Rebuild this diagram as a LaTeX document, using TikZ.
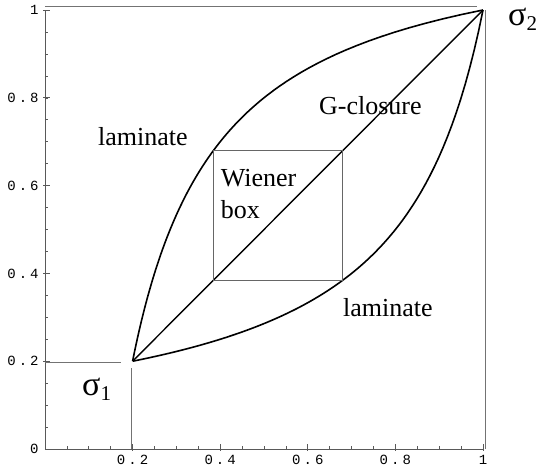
\documentclass[tikz,border=0pt]{standalone}
\usepackage{fontspec}
\setmainfont{Liberation Serif}
\newfontfamily\tickfont[LetterSpace=22]{Liberation Mono}
\usepackage{tikz}
\usetikzlibrary{positioning}

\begin{document}
\begin{tikzpicture}[
    x=438pt, y=439pt,
    axis/.style={draw=black!65, line width=0.9pt},
    guide/.style={draw=black!55, line width=0.9pt},
    curve/.style={draw=black, line width=1.6pt},
    wbox/.style={draw=black!60, line width=0.9pt},
    lbl/.style={font=\fontsize{26}{32}\selectfont, inner sep=0pt},
    sig/.style={font=\fontsize{34}{34}\selectfont, inner sep=0pt, anchor=base west},
    tick/.style={font=\tickfont\fontsize{14}{14}\selectfont, inner sep=0pt},
]
\useasboundingbox (-0.1027,-0.0547) rectangle (1.1461,1.0228);

% axes and ticks
\coordinate (o) at (0,0);
\draw[axis] (o) -- (1,0);
\draw[axis] (o) -- (0,1);
\foreach \i in {1,...,20} {
    \draw[axis, line width=0.6pt] (\i/20,0) -- (\i/20,0.007);
    \draw[axis, line width=0.6pt] (0,\i/20) -- (0.007,\i/20);
}
\foreach \t in {0.2,0.4,0.6,0.8,1} {
    \draw[axis] (\t,-0.004) -- (\t,0.012);
    \draw[axis] (-0.004,\t) -- (0.012,\t);
    \node[tick, anchor=base] at (\t,-0.035) {\t};
    \node[tick, anchor=east] at (-0.014,\t) {\t};
}
\node[tick, anchor=east] at (-0.014,0) {0};

% the two phases
\coordinate (s1) at (0.2,0.2);
\coordinate (s2) at (1,1);
\draw[guide] (0,0.198) -- (0.1735,0.198);
\draw[guide] (0.198,0) -- (0.198,0.185);
\draw[guide] (0,1.009) -- (0.986,1.009);
\draw[guide] (1.006,0) -- (1.006,1.0);

% laminate bounds and G-closure diagonal
\draw[curve] plot[domain=0:1, samples=80, variable=\m] ({1/(1+4*\m)}, {1-0.8*\m});
\draw[curve] plot[domain=0:1, samples=80, variable=\m] ({1-0.8*\m}, {1/(1+4*\m)});
\draw[curve, line width=1.4pt] (s1) -- (s2);

% Wiener box
\coordinate (wlo) at (0.3846,0.3846);
\coordinate (whi) at (0.68,0.68);
\draw[wbox] (wlo) rectangle (whi);

\node[lbl, anchor=base] (lamup) at (0.2237,0.6925) {laminate};
\node[lbl, anchor=base] (lamlo) at (0.783,0.301) {laminate};
\node[lbl, anchor=base] (gcl) at (0.743,0.761) {G-closure};
\node[lbl, anchor=base west, align=left] (wiener) at (0.401,0.524) {Wiener\\box};

\node[sig] (sig1) at (0.0845,0.123) {σ\raisebox{-5pt}{\fontsize{21}{21}\selectfont 1}};
\node[sig] (sig2) at (1.057,0.9636) {σ\raisebox{-5pt}{\fontsize{21}{21}\selectfont 2}};
\end{tikzpicture}
\end{document}
